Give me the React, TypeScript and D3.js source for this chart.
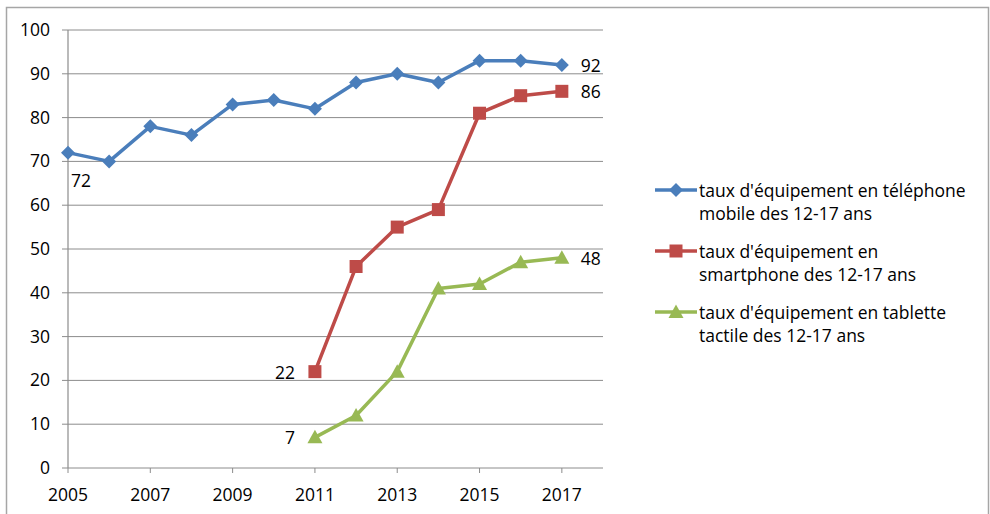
import React from "react";
import * as d3 from "d3";

const years = [2005, 2006, 2007, 2008, 2009, 2010, 2011, 2012, 2013, 2014, 2015, 2016, 2017];
const mobile = [72, 70, 78, 76, 83, 84, 82, 88, 90, 88, 93, 93, 92];
const smartYears = [2011, 2012, 2013, 2014, 2015, 2016, 2017];
const smartphone = [22, 46, 55, 59, 81, 85, 86];
const tablet = [7, 12, 22, 41, 42, 47, 48];
const yTicks = [0, 10, 20, 30, 40, 50, 60, 70, 80, 90, 100];
const xTicks = [2005, 2007, 2009, 2011, 2013, 2015, 2017];
const legendLines = [
  ["taux d'équipement en téléphone", "mobile des 12-17 ans"],
  ["taux d'équipement en", "smartphone des 12-17 ans"],
  ["taux d'équipement en tablette", "tactile des 12-17 ans"],
];

const BLUE = "#4a7ebb";
const RED = "#be4b48";
const GREEN = "#98b954";
const FONT = "'Open Sans', 'Liberation Sans', sans-serif";

export default function App() {
  const x = d3.scaleLinear().domain([2005, 2018]).range([68, 603]);
  const y = d3.scaleLinear().domain([0, 100]).range([468, 30]);
  const line = d3
    .line<[number, number]>()
    .x((d) => x(d[0]))
    .y((d) => y(d[1]));

  const mData: [number, number][] = years.map((yr, i) => [yr, mobile[i]]);
  const sData: [number, number][] = smartYears.map((yr, i) => [yr, smartphone[i]]);
  const tData: [number, number][] = smartYears.map((yr, i) => [yr, tablet[i]]);

  const diamond = (cx: number, cy: number, r = 7) =>
    `M${cx},${cy - r}L${cx + r},${cy}L${cx},${cy + r}L${cx - r},${cy}Z`;
  const square = (cx: number, cy: number, r = 6.5) =>
    `M${cx - r},${cy - r}h${2 * r}v${2 * r}h${-2 * r}Z`;
  const tri = (cx: number, cy: number, r = 7.5) =>
    `M${cx},${cy - r}L${cx + r},${cy + r * 0.8}L${cx - r},${cy + r * 0.8}Z`;

  const markers = [diamond, square, tri];
  const colors = [BLUE, RED, GREEN];
  const fs = 17.5;

  return (
    <svg width={990} height={514} style={{ position: "absolute", left: 0, top: 0 }}>
      <rect x={0} y={0} width={990} height={514} fill="#fff" />
      <rect x={6.5} y={7.5} width={982} height={520} fill="none" stroke="#a6a6a6" strokeWidth={1.5} />
      {yTicks.map((t) => (
        <g key={t}>
          <line x1={62} x2={603} y1={y(t)} y2={y(t)} stroke="#8c8c8c" strokeWidth={1} />
          <text x={50} y={y(t) + 6} textAnchor="end" fontFamily={FONT} fontSize={fs} fill="#000">
            {t}
          </text>
        </g>
      ))}
      <line x1={68} x2={68} y1={y(100)} y2={y(0)} stroke="#8c8c8c" strokeWidth={1.2} />
      {xTicks.map((t) => (
        <g key={t}>
          <line x1={x(t)} x2={x(t)} y1={y(0)} y2={y(0) + 5} stroke="#8c8c8c" />
          <text x={x(t)} y={y(0) + 33} textAnchor="middle" fontFamily={FONT} fontSize={fs} fill="#000">
            {t}
          </text>
        </g>
      ))}
      {[mData, sData, tData].map((d, si) => (
        <g key={si}>
          <path d={line(d) || ""} fill="none" stroke={colors[si]} strokeWidth={3.5} strokeLinejoin="round" />
          {d.map((p, i) => (
            <path key={i} d={markers[si](x(p[0]), y(p[1]))} fill={colors[si]} />
          ))}
        </g>
      ))}
      <text x={x(2005) + 3} y={y(mobile[0]) + 34} fontFamily={FONT} fontSize={fs}>{mobile[0]}</text>
      <text x={x(2017) + 19} y={y(mobile[12]) + 7} fontFamily={FONT} fontSize={fs}>{mobile[12]}</text>
      <text x={x(2017) + 19} y={y(smartphone[6]) + 7} fontFamily={FONT} fontSize={fs}>{smartphone[6]}</text>
      <text x={x(2017) + 19} y={y(tablet[6]) + 7} fontFamily={FONT} fontSize={fs}>{tablet[6]}</text>
      <text x={x(2011) - 20} y={y(smartphone[0]) + 7} textAnchor="end" fontFamily={FONT} fontSize={fs}>{smartphone[0]}</text>
      <text x={x(2011) - 20} y={y(tablet[0]) + 7} textAnchor="end" fontFamily={FONT} fontSize={fs}>{tablet[0]}</text>
      {legendLines.map((lines, i) => {
        const ly = 190 + i * 61;
        return (
          <g key={i}>
            <line x1={655} x2={697} y1={ly} y2={ly} stroke={colors[i]} strokeWidth={3.5} />
            <path d={markers[i](676, ly)} fill={colors[i]} />
            {lines.map((s, j) => (
              <text key={j} x={699} y={ly + 7 + j * 23} fontFamily={FONT} fontSize={fs} fill="#000">
                {s}
              </text>
            ))}
          </g>
        );
      })}
    </svg>
  );
}
